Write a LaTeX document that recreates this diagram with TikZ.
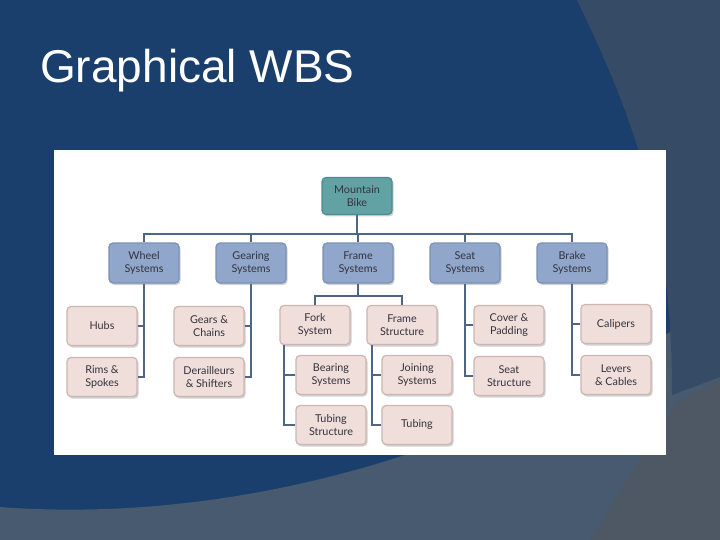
\documentclass[tikz,border=0pt]{standalone}
\usepackage{fontspec}
\usepackage{xcolor}
\usepackage{tikz}
\usetikzlibrary{positioning, shadows}
\newfontfamily\titlefont{Liberation Sans}
\newfontfamily\boxfont{Lato}

\definecolor{slideblue}{HTML}{1A3F6C}
\definecolor{slidegray}{HTML}{364B66}
\definecolor{bandgray}{HTML}{485A70}
\definecolor{wedgegray}{HTML}{4E5764}
\definecolor{linkblue}{HTML}{4F6585}
\definecolor{rootfill}{HTML}{62A2A5}
\definecolor{rootdraw}{HTML}{4C8C90}
\definecolor{sysfill}{HTML}{90A6CA}
\definecolor{sysdraw}{HTML}{7A90B5}
\definecolor{partfill}{HTML}{F0DEDA}
\definecolor{partdraw}{HTML}{CDB5B3}
\definecolor{boxtext}{HTML}{33333F}

\begin{document}
\begin{tikzpicture}[
    x=1pt, y=-1pt,
    wbsbox/.style={
        rectangle, rounded corners=4pt, line width=1.2pt,
        minimum width=70pt, minimum height=39pt,
        text centered, align=center, text=boxtext,
        font=\boxfont\fontsize{10.8}{13}\selectfont,
        drop shadow={shadow xshift=1.5pt, shadow yshift=-2pt, fill=black, opacity=0.18}
    },
    rootbox/.style={wbsbox, fill=rootfill, draw=rootdraw, minimum height=37pt},
    sysbox/.style={wbsbox, fill=sysfill, draw=sysdraw, minimum height=40pt},
    partbox/.style={wbsbox, fill=partfill, draw=partdraw},
    link/.style={draw=linkblue, line width=2pt},
]
\useasboundingbox (0,0) rectangle (720,540);

%% Sfondo della slide
\fill[slideblue] (0,0) rectangle (720,540);
\fill[bandgray] (0,507) .. controls (200,522) and (460,475) .. (720,300)
    -- (720,540) -- (0,540) -- cycle;
\fill[slidegray] (577,0) .. controls (640,130) and (672,230) .. (672,395)
    -- (720,377) -- (720,0) -- cycle;
\fill[wedgegray] (590,540) -- (676,402) -- (720,380) -- (720,540) -- cycle;

%% Titolo
\node[anchor=base west, text=white, inner sep=0pt,
    font=\titlefont\fontsize{46}{50}\selectfont] (title) at (40,83) {Graphical WBS};

%% Pannello bianco
\fill[white] (54,150) rectangle (666,455);

%% Livello 0
\node[rootbox] (root) at (357,196) {Mountain\\Bike};

%% Livello 1
\node[sysbox] (wheel) at (144,263) {Wheel\\Systems};
\node[sysbox] (gear)  at (251,263) {Gearing\\Systems};
\node[sysbox] (frame) at (358,263) {Frame\\Systems};
\node[sysbox] (seat)  at (465,263) {Seat\\Systems};
\node[sysbox] (brake) at (572,263) {Brake\\Systems};

%% Livello 2
\node[partbox] (hubs)     at (102,326) {Hubs};
\node[partbox] (rims)     at (102,377) {Rims \&\\Spokes};
\node[partbox] (gears)    at (209,326) {Gears \&\\Chains};
\node[partbox] (derail)   at (209,377) {Derailleurs\\\& Shifters};
\node[partbox] (fork)     at (315,325) {Fork\\System};
\node[partbox] (fstruct)  at (402,325) {Frame\\Structure};
\node[partbox] (cover)    at (509,325) {Cover \&\\Padding};
\node[partbox] (seatstr)  at (509,376) {Seat\\Structure};
\node[partbox] (calipers) at (616,324) {Calipers};
\node[partbox] (levers)   at (616,375) {Levers\\\& Cables};

%% Livello 3
\node[partbox] (bearing) at (331,375) {Bearing\\Systems};
\node[partbox] (ftubing) at (331,425) {Tubing\\Structure};
\node[partbox] (joining) at (417,375) {Joining\\Systems};
\node[partbox] (tubing)  at (417,425) {Tubing};

%% Collegamenti livello 0 -> 1
\coordinate (bus) at (0,234);
\draw[link] (root.south) -- (root.south |- bus);
\draw[link] (wheel.north) -- (wheel.north |- bus) -- (brake.north |- bus) -- (brake.north);
\foreach \sys in {gear,frame,seat}
    \draw[link] (\sys.north) -- (\sys.north |- bus);

%% Collegamenti livello 1 -> 2
\draw[link] (wheel.south) |- (rims.east);
\draw[link] (hubs.east) -- (hubs.east -| wheel.south);
\draw[link] (gear.south) |- (derail.east);
\draw[link] (gears.east) -- (gears.east -| gear.south);
\draw[link] (seat.south) |- (seatstr.west);
\draw[link] (cover.west) -- (cover.west -| seat.south);
\draw[link] (brake.south) |- (levers.west);
\draw[link] (calipers.west) -- (calipers.west -| brake.south);

\coordinate (fbus) at (0,296);
\draw[link] (frame.south) -- (frame.south |- fbus);
\draw[link] (fork.north) -- (fork.north |- fbus) -- (fstruct.north |- fbus) -- (fstruct.north);

%% Collegamenti livello 2 -> 3
\coordinate (forkdrop) at ([xshift=5pt]fork.south west);
\coordinate (fsdrop) at ([xshift=6pt]fstruct.south west);
\draw[link] (forkdrop) |- (ftubing.west);
\draw[link] (bearing.west) -- (bearing.west -| forkdrop);
\draw[link] (fsdrop) |- (tubing.west);
\draw[link] (joining.west) -- (joining.west -| fsdrop);

\end{tikzpicture}
\end{document}
